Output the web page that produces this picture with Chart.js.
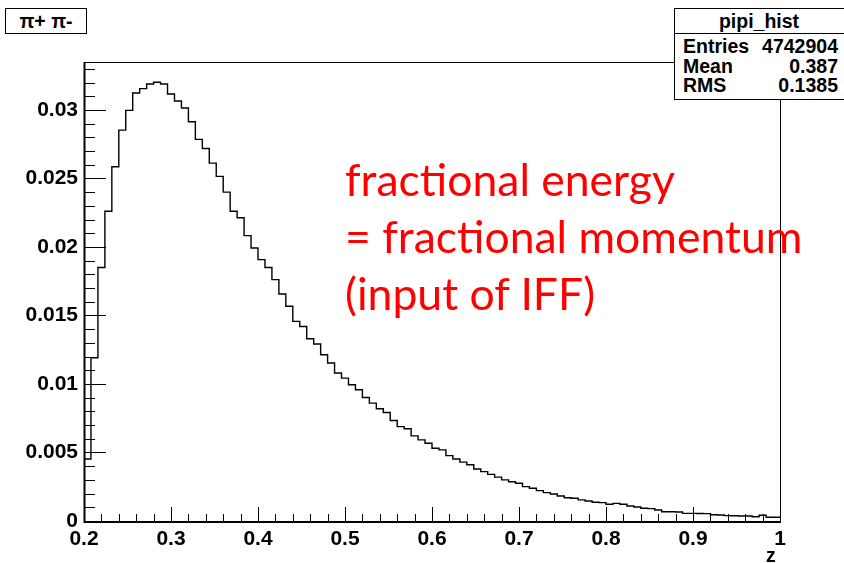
<!DOCTYPE html>
<html>
<head>
<meta charset="utf-8">
<script src="https://cdn.jsdelivr.net/npm/chart.js@4.4.0/dist/chart.umd.min.js"></script>
<style>
body { margin: 0; background: #fff; }
#wrap { position: relative; width: 844px; height: 563px; overflow: hidden; font-family: "Liberation Sans", Arial, sans-serif; }
#chart { position: absolute; left: 0; top: 0; }
.box { position: absolute; background: #fff; border: 1px solid #000; box-sizing: border-box; }
.t { position: absolute; font-weight: bold; font-size: 19.5px; line-height: 20px; color: #000; white-space: nowrap; }
#note { position: absolute; left: 345px; top: 150px; font-family: Lato, "Open Sans", sans-serif; font-size: 44.5px; line-height: 57px; color: #ff0000; white-space: nowrap; }
</style>
</head>
<body>
<div id="wrap">
  <canvas id="chart" width="844" height="563"></canvas>

  <div class="box" style="left:5px; top:8px; width:82px; height:26px;"></div>
  <div class="t" style="left:5px; top:10.5px; width:82px; text-align:center;">π+ π-</div>

  <div class="box" style="left:674px; top:8px; width:172px; height:92px;"></div>
  <div class="box" style="left:674px; top:33px; width:172px; height:1px; border-width:1px 0 0 0;"></div>
  <div class="t" style="left:674px; top:11px; width:170px; text-align:center;">pipi_hist</div>
  <div class="t" style="left:683px; top:36px;">Entries</div>
  <div class="t" style="right:6px; top:36px;">4742904</div>
  <div class="t" style="left:683px; top:56px;">Mean</div>
  <div class="t" style="right:6px; top:56px;">0.387</div>
  <div class="t" style="left:683px; top:75px;">RMS</div>
  <div class="t" style="right:6px; top:75px;">0.1385</div>

  <div class="t" style="left:766px; top:545px;">z</div>

  <div id="note">fractional energy<br>= fractional momentum<br>(input of IFF)</div>
</div>

<script>
// histogram pipi_hist: 100 bins from 0.2 to 1.0
const binLow = 0.2;
const binWidth = 0.008;
const binValues = [
    0.00453, 0.01191, 0.01850, 0.02261, 0.02585, 0.02853, 0.02997, 0.03124, 0.03156, 0.03189,
    0.03202, 0.03189, 0.03116, 0.03065, 0.03014, 0.02914, 0.02785, 0.02719, 0.02612, 0.02515,
    0.02400, 0.02261, 0.02213, 0.02083, 0.01993, 0.01908, 0.01850, 0.01762, 0.01657, 0.01567,
    0.01457, 0.01420, 0.01330, 0.01292, 0.01213, 0.01153, 0.01080, 0.01043, 0.00994, 0.00958,
    0.00901, 0.00860, 0.00819, 0.00792, 0.00733, 0.00689, 0.00673, 0.00621, 0.00592, 0.00568,
    0.00531, 0.00519, 0.00477, 0.00453, 0.00430, 0.00410, 0.00380, 0.00360, 0.00340, 0.00320,
    0.00300, 0.00287, 0.00275, 0.00251, 0.00239, 0.00222, 0.00207, 0.00197, 0.00183, 0.00170,
    0.00166, 0.00154, 0.00146, 0.00137, 0.00134, 0.00122, 0.00129, 0.00122, 0.00110, 0.00102,
    0.00093, 0.00090, 0.00080, 0.00068, 0.00068, 0.00066, 0.00056, 0.00056, 0.00055, 0.00054,
    0.00046, 0.00044, 0.00039, 0.00038, 0.00037, 0.00036, 0.00031, 0.00042, 0.00027, 0.00027
];

const xTickValues = [0.2, 0.3, 0.4, 0.5, 0.6, 0.7, 0.8, 0.9, 1.0];
const xTickLabels = ['0.2', '0.3', '0.4', '0.5', '0.6', '0.7', '0.8', '0.9', '1'];
const yTickValues = [0, 0.005, 0.01, 0.015, 0.02, 0.025, 0.03];
const yTickLabels = ['0', '0.005', '0.01', '0.015', '0.02', '0.025', '0.03'];

// low edge of each bin, plus the upper edge of the last one
const points = binValues.map((v, i) => ({ x: binLow + i * binWidth, y: v }));
points.push({ x: 1.0, y: binValues[binValues.length - 1] });

const tickFont = { family: 'Liberation Sans', size: 21, weight: 'bold' };

// ROOT style frame with ticks drawn inside
const rootFrame = {
    id: 'rootFrame',
    afterDatasetsDraw(chart) {
        const { ctx, chartArea: a, scales: { x, y } } = chart;
        ctx.save();
        ctx.strokeStyle = '#000';
        ctx.lineWidth = 1;
        ctx.strokeRect(a.left + 0.5, a.top + 0.5, a.right - a.left, a.bottom - a.top);
        ctx.beginPath();
        for (let k = 0; k <= 33; k++) {
            const py = Math.round(y.getPixelForValue(k * 0.001)) + 0.5;
            const len = k % 5 === 0 ? 22 : 11;
            ctx.moveTo(a.left, py);
            ctx.lineTo(a.left + len, py);
        }
        for (let k = 0; k <= 40; k++) {
            const px = Math.round(x.getPixelForValue(0.2 + k * 0.02)) + 0.5;
            const len = k % 5 === 0 ? 14 : 7;
            ctx.moveTo(px, a.bottom);
            ctx.lineTo(px, a.bottom - len);
        }
        ctx.stroke();
        ctx.lineWidth = 2;
        ctx.beginPath();
        ctx.moveTo(a.left + 0.5, a.top);
        ctx.lineTo(a.left + 0.5, a.bottom + 1);
        ctx.lineTo(a.right + 1, a.bottom + 1);
        ctx.stroke();
        ctx.restore();
    }
};

new Chart(document.getElementById('chart'), {
    type: 'line',
    data: {
        datasets: [{
            data: points,
            stepped: true,
            borderColor: '#000',
            borderWidth: 1.4,
            pointRadius: 0,
            fill: false
        }]
    },
    options: {
        responsive: false,
        animation: false,
        layout: { padding: { left: 0, right: 64, top: 62, bottom: 0 } },
        plugins: { legend: { display: false }, tooltip: { enabled: false } },
        scales: {
            x: {
                type: 'linear',
                min: 0.2,
                max: 1.0,
                grid: { display: false, drawTicks: false },
                border: { display: false },
                afterBuildTicks: s => { s.ticks = xTickValues.map(v => ({ value: v })); },
                afterFit: s => { s.height = 42; },
                ticks: {
                    autoSkip: false,
                    maxRotation: 0,
                    padding: 6,
                    color: '#000',
                    font: tickFont,
                    callback: (v, i) => xTickLabels[i]
                }
            },
            y: {
                min: 0,
                max: 0.0335,
                grid: { display: false, drawTicks: false },
                border: { display: false },
                afterBuildTicks: s => { s.ticks = yTickValues.map(v => ({ value: v })); },
                afterFit: s => { s.width = 84; },
                ticks: {
                    padding: 6,
                    color: '#000',
                    font: tickFont,
                    callback: (v, i) => yTickLabels[i]
                }
            }
        }
    },
    plugins: [rootFrame]
});
</script>
</body>
</html>
